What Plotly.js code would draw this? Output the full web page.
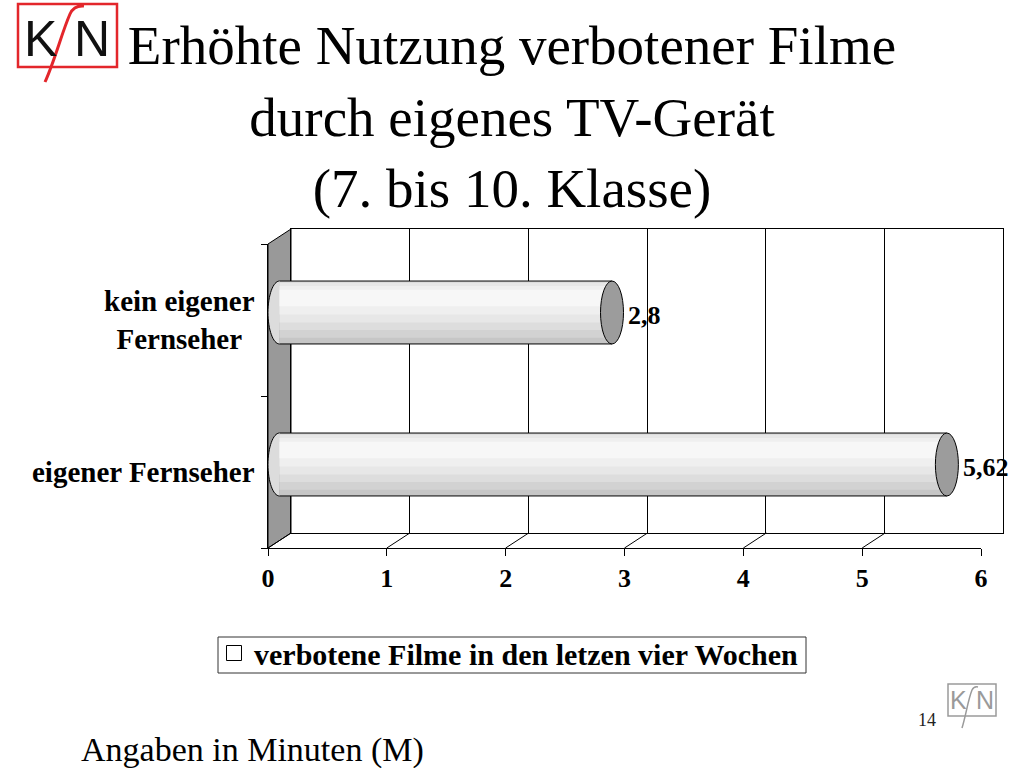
<!DOCTYPE html>
<html>
<head>
<meta charset="utf-8">
<script src="https://cdn.plot.ly/plotly-3.0.1.min.js"></script>
<style>html,body{margin:0;padding:0;background:#fff;}#chart{width:1024px;height:768px;}</style>
</head>
<body>
<div id="chart"></div>
<script>
// ---- data ----
const categories = ['kein eigener Fernseher', 'eigener Fernseher'];
const categoryLabels = ['kein eigener<br>Fernseher', 'eigener Fernseher'];
const values = [2.8, 5.62];
const valueLabels = ['2,8', '5,62'];
const xTicks = [0, 1, 2, 3, 4, 5, 6];
const seriesName = 'verbotene Filme in den letzen vier Wochen';
const titleLines = ['Erhöhte Nutzung verbotener Filme', 'durch eigenes TV-Gerät', '(7. bis 10. Klasse)'];
const noteText = 'Angaben in Minuten (M)';
const pageNumber = '14';

// ---- helpers (pixel -> paper) ----
const W = 1024, H = 768;
const PX = v => v / W;
const PY = v => 1 - v / H;
const serif = 'Liberation Serif, Times New Roman, serif';
const sans = 'Liberation Sans, Arial, sans-serif';

// plane geometry (back wall, front plane, middle plane for bars)
const back = {x0: 291, x1: 1003, y0: 229, y1: 533};
const front = {x0: 268, x1: 981, y0: 244, y1: 548};
const mid = {x0: 279.5, x1: 992, y0: 236.5, y1: 540.5};
const xMax = xTicks[xTicks.length - 1];
const midUnit = (mid.x1 - mid.x0) / xMax;
const frontUnit = (front.x1 - front.x0) / xMax;
const pad = 0.2; // extra room on the bar axis so the caps are not clipped
const barHalf = 0.207;
const capRx = 11.5 / midUnit;
const depthX = (back.x0 - front.x0) / frontUnit;
const idx = categories.map((c, i) => i);

// ---- traces ----
const shades = [
  [0, 1, '#c6c6c6'], [0, 0.9, '#d2d2d2'], [0, 0.78, '#dddddd'],
  [0.03, 0.66, '#e7e7e7'], [0.08, 0.53, '#efefef'], [0.14, 0.40, '#f7f7f7']
];
const traces = shades.map(s => ({
  type: 'bar', orientation: 'h',
  x: values, y: idx,
  xaxis: 'x3', yaxis: 'y3',
  width: values.map(() => (s[1] - s[0]) * 2 * barHalf),
  offset: values.map(() => -barHalf + s[0] * 2 * barHalf),
  marker: {color: s[2], line: {width: 0}},
  showlegend: false, hoverinfo: 'skip'
}));
// carrier for the back wall axes
traces.push({type: 'scatter', mode: 'markers', x: [null], y: [null], xaxis: 'x', yaxis: 'y', showlegend: false, hoverinfo: 'skip'});
// legend entry
traces.push({
  type: 'scatter', mode: 'markers', x: [null], y: [null],
  xaxis: 'x2', yaxis: 'y2', name: seriesName,
  marker: {symbol: 'square', size: 15, color: 'white', line: {color: 'black', width: 1}},
  showlegend: true, hoverinfo: 'skip'
});

// ---- shapes ----
const shapes = [];
// legend box
shapes.push({type: 'rect', xref: 'paper', yref: 'paper', layer: 'below', x0: PX(218), x1: PX(806), y0: PY(637), y1: PY(673),
  line: {color: '#333', width: 1}, fillcolor: 'white'});
// left wall
shapes.push({type: 'path', xref: 'paper', yref: 'paper', layer: 'below',
  path: `M ${PX(front.x0)},${PY(front.y1)} L ${PX(front.x0)},${PY(front.y0)} L ${PX(back.x0)},${PY(back.y0)} L ${PX(back.x0)},${PY(back.y1)} Z`,
  fillcolor: '#999999', line: {color: 'black', width: 1}});
// floor depth lines at each tick
xTicks.forEach(k => shapes.push({type: 'line', xref: 'x2', yref: 'paper', layer: 'below',
  x0: k, y0: PY(front.y1), x1: k + depthX, y1: PY(back.y1), line: {color: 'black', width: 1}}));
// cylinders
const kap = 0.5523;
idx.forEach(i => {
  const v = values[i];
  const t = i - barHalf, b = i + barHalf;
  shapes.push({type: 'path', xref: 'x3', yref: 'y3', layer: 'below',
    path: `M 0,${t} C ${-kap * capRx},${t} ${-capRx},${i - kap * barHalf} ${-capRx},${i} C ${-capRx},${i + kap * barHalf} ${-kap * capRx},${b} 0,${b}`,
    fillcolor: '#dcdcdc', line: {color: 'black', width: 1}});
  shapes.push({type: 'line', xref: 'x3', yref: 'y3', layer: 'above', x0: 0, x1: v, y0: t, y1: t, line: {color: 'black', width: 1}});
  shapes.push({type: 'line', xref: 'x3', yref: 'y3', layer: 'above', x0: 0, x1: v, y0: b, y1: b, line: {color: 'black', width: 1}});
  shapes.push({type: 'circle', xref: 'x3', yref: 'y3', layer: 'above', x0: v - capRx, x1: v + capRx, y0: t, y1: b,
    fillcolor: '#9c9c9c', line: {color: 'black', width: 1}});
});
// top-left logo
shapes.push({type: 'rect', xref: 'paper', yref: 'paper', x0: PX(18), x1: PX(117), y0: PY(4), y1: PY(67),
  line: {color: '#e3262b', width: 2.5}, fillcolor: 'rgba(0,0,0,0)'});
shapes.push({type: 'path', xref: 'paper', yref: 'paper',
  path: `M ${PX(45)},${PY(82)} C ${PX(55)},${PY(60)} ${PX(62)},${PY(32)} ${PX(70)},${PY(14)} Q ${PX(74)},${PY(5)} ${PX(84)},${PY(6)}`,
  line: {color: '#e3262b', width: 3}});
// bottom-right logo
shapes.push({type: 'rect', xref: 'paper', yref: 'paper', x0: PX(948), x1: PX(996), y0: PY(684), y1: PY(716),
  line: {color: '#9a9a9a', width: 1.5}, fillcolor: 'rgba(0,0,0,0)'});
shapes.push({type: 'path', xref: 'paper', yref: 'paper',
  path: `M ${PX(962)},${PY(728)} C ${PX(966)},${PY(715)} ${PX(968)},${PY(700)} ${PX(972)},${PY(690)} Q ${PX(974)},${PY(686)} ${PX(978)},${PY(687)}`,
  line: {color: '#9a9a9a', width: 1.5}});

// ---- annotations ----
const annotations = [];
idx.forEach(i => {
  annotations.push({xref: 'paper', yref: 'y2', x: PX(257), y: i, xanchor: 'right', yanchor: 'middle', align: 'center',
    text: categoryLabels[i], showarrow: false, font: {family: serif, size: 29, color: 'black', weight: 'bold'}});
  annotations.push({xref: 'x3', yref: 'y3', x: values[i], y: i, xanchor: 'left', yanchor: 'middle', xshift: 14, yshift: -3,
    text: valueLabels[i], showarrow: false, font: {family: serif, size: 26, color: 'black', weight: 'bold'}});
});
annotations.push({xref: 'paper', yref: 'paper', x: PX(79), y: PY(750), xanchor: 'left', yanchor: 'middle',
  text: noteText, showarrow: false, font: {family: serif, size: 34, color: 'black'}});
annotations.push({xref: 'paper', yref: 'paper', x: PX(927), y: PY(720), xanchor: 'center', yanchor: 'middle',
  text: pageNumber, showarrow: false, font: {family: serif, size: 18, color: '#222'}});
annotations.push({xref: 'paper', yref: 'paper', x: PX(40), y: PY(39), xanchor: 'center', yanchor: 'middle',
  text: 'K', showarrow: false, font: {family: sans, size: 50, color: '#111'}});
annotations.push({xref: 'paper', yref: 'paper', x: PX(92), y: PY(39), xanchor: 'center', yanchor: 'middle',
  text: 'N', showarrow: false, font: {family: sans, size: 50, color: '#111'}});
annotations.push({xref: 'paper', yref: 'paper', x: PX(958), y: PY(700), xanchor: 'center', yanchor: 'middle',
  text: 'K', showarrow: false, font: {family: sans, size: 25, color: '#9a9a9a'}});
annotations.push({xref: 'paper', yref: 'paper', x: PX(985), y: PY(700), xanchor: 'center', yanchor: 'middle',
  text: 'N', showarrow: false, font: {family: sans, size: 25, color: '#9a9a9a'}});

const hidden = {showgrid: false, zeroline: false, showline: false, showticklabels: false, ticks: ''};

const layout = {
  width: W, height: H,
  margin: {l: 0, r: 0, t: 0, b: 0},
  paper_bgcolor: 'white', plot_bgcolor: 'rgba(0,0,0,0)',
  barmode: 'overlay',
  title: {text: titleLines.join('<br>'), x: 0.5, xanchor: 'center', xref: 'paper', y: PY(64), yref: 'paper', yanchor: 'top',
    font: {family: serif, size: 55, color: 'black'}},
  // back wall
  xaxis: {domain: [PX(back.x0), PX(back.x1)], range: [0, xMax], anchor: 'y', tickvals: xTicks,
    showgrid: true, gridcolor: 'black', gridwidth: 1, zeroline: false, showline: true, mirror: true,
    linecolor: 'black', linewidth: 1, showticklabels: false, ticks: ''},
  yaxis: {domain: [PY(back.y1), PY(back.y0)], range: [0, 1], anchor: 'x',
    showgrid: false, zeroline: false, showline: true, mirror: true, linecolor: 'black', linewidth: 1,
    showticklabels: false, ticks: ''},
  // front plane axes
  xaxis2: {domain: [PX(front.x0), PX(front.x1)], range: [0, xMax], anchor: 'y2', tickvals: xTicks,
    showgrid: false, zeroline: false, showline: true, linecolor: 'black', linewidth: 1,
    ticks: 'outside', ticklen: 7, tickcolor: 'black',
    tickfont: {family: serif, size: 26, color: 'black', weight: 'bold'}},
  yaxis2: {domain: [PY(front.y1), PY(front.y0)], range: [1.5, -0.5], anchor: 'x2',
    tickvals: [-0.5, 0.5, 1.5], showticklabels: false,
    showgrid: false, zeroline: false, showline: true, linecolor: 'black', linewidth: 1,
    ticks: 'outside', ticklen: 6, tickcolor: 'black'},
  // middle plane (cylinders)
  xaxis3: Object.assign({domain: [PX(mid.x0 - pad * midUnit), PX(mid.x1 + pad * midUnit)], range: [-pad, xMax + pad], anchor: 'y3'}, hidden),
  yaxis3: Object.assign({domain: [PY(mid.y1), PY(mid.y0)], range: [1.5, -0.5], anchor: 'x3'}, hidden),
  showlegend: true,
  legend: {x: PX(214), y: PY(627), xanchor: 'left', yanchor: 'top', xref: 'paper', yref: 'paper',
    bgcolor: 'rgba(0,0,0,0)', borderwidth: 0,
    font: {family: serif, size: 30, color: 'black', weight: 'bold'}},
  shapes: shapes,
  annotations: annotations
};

Plotly.newPlot('chart', traces, layout, {displayModeBar: false, staticPlot: true});
</script>
</body>
</html>
